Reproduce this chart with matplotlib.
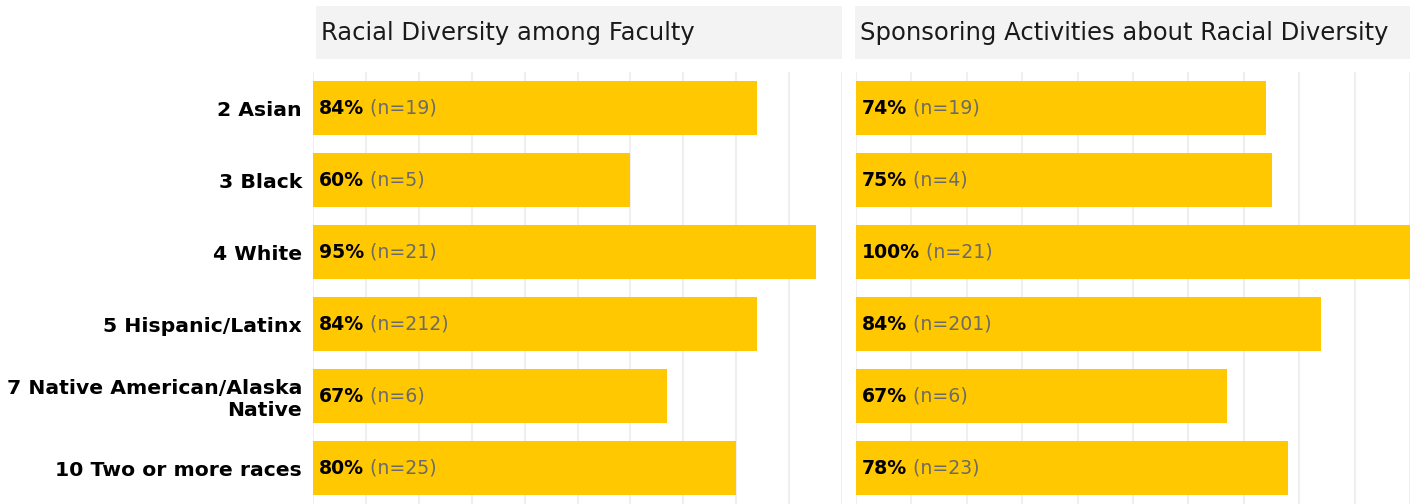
import matplotlib
matplotlib.use("Agg")
import matplotlib.pyplot as plt
from matplotlib.patches import Rectangle

plt.rcParams['font.family'] = ['DejaVu Sans']

# datos
categorias = ["2 Asian", "3 Black", "4 White", "5 Hispanic/Latinx",
              "7 Native American/Alaska\nNative", "10 Two or more races"]
faculty_pct = [84, 60, 95, 84, 67, 80]
faculty_n = [19, 5, 21, 212, 6, 25]
activities_pct = [74, 75, 100, 84, 67, 78]
activities_n = [19, 4, 21, 201, 6, 23]
titulos = ["Racial Diversity among Faculty", "Sponsoring Activities about Racial Diversity"]

amarillo = "#FFC800"
W, H = 1414, 504
fig = plt.figure(figsize=(W / 100, H / 100), dpi=100)

# posiciones de los paneles en pixeles (x0, x1)
paneles = [(313, 842), (856, 1410)]
tiras = [(316, 842), (855, 1410)]
y_top, y_bot = 72, 504

def panel(x0, x1, pct, n, titulo, tira, con_labels):
    ax = fig.add_axes([x0 / W, 1 - y_bot / H, (x1 - x0) / W, (y_bot - y_top) / H])
    y = list(range(len(categorias)))
    vals = [p / 100 for p in pct]
    ax.barh(y, vals, height=0.76, color=amarillo, zorder=2)
    ax.set_xlim(0, 1)
    ax.set_ylim(len(categorias) - 0.5, -0.5)
    ax.set_xticks([i / 10 for i in range(11)])
    ax.grid(axis="x", color="#efefef", linewidth=1.5, zorder=0)
    ax.tick_params(length=0, labelbottom=False)
    for s in ax.spines.values():
        s.set_visible(False)
    if con_labels:
        ax.set_yticks(y)
        ax.set_yticklabels(categorias, fontsize=14.7, fontweight="bold", ha="right",
                           linespacing=1.2)
        ax.tick_params(axis="y", pad=8)
    else:
        ax.set_yticks([])
    # etiquetas dentro de las barras
    for yi, p, ni in zip(y, pct, n):
        t = ax.annotate(f"{p}%", xy=(0, yi), xytext=(4, 0), textcoords="offset points",
                        fontsize=13.6, fontweight="bold", color="black",
                        va="center", ha="left", zorder=3)
        ax.annotate(f" (n={ni})", xy=(1, 0), xycoords=t, fontsize=13.6,
                    color="#6b6b6b", va="bottom", ha="left", zorder=3)
    # tira del titulo
    fig.patches.append(Rectangle((tira[0] / W, 1 - 59 / H), (tira[1] - tira[0]) / W, 53 / H,
                                 transform=fig.transFigure, facecolor="#f3f3f3",
                                 edgecolor="none", zorder=0))
    fig.text((tira[0] + 5) / W, 1 - 33 / H, titulo, fontsize=17.5, color="#1a1a1a",
             va="center", ha="left")
    return ax

panel(paneles[0][0], paneles[0][1], faculty_pct, faculty_n, titulos[0], tiras[0], True)
panel(paneles[1][0], paneles[1][1], activities_pct, activities_n, titulos[1], tiras[1], False)

fig.savefig("out.png", dpi=100, facecolor="white")
